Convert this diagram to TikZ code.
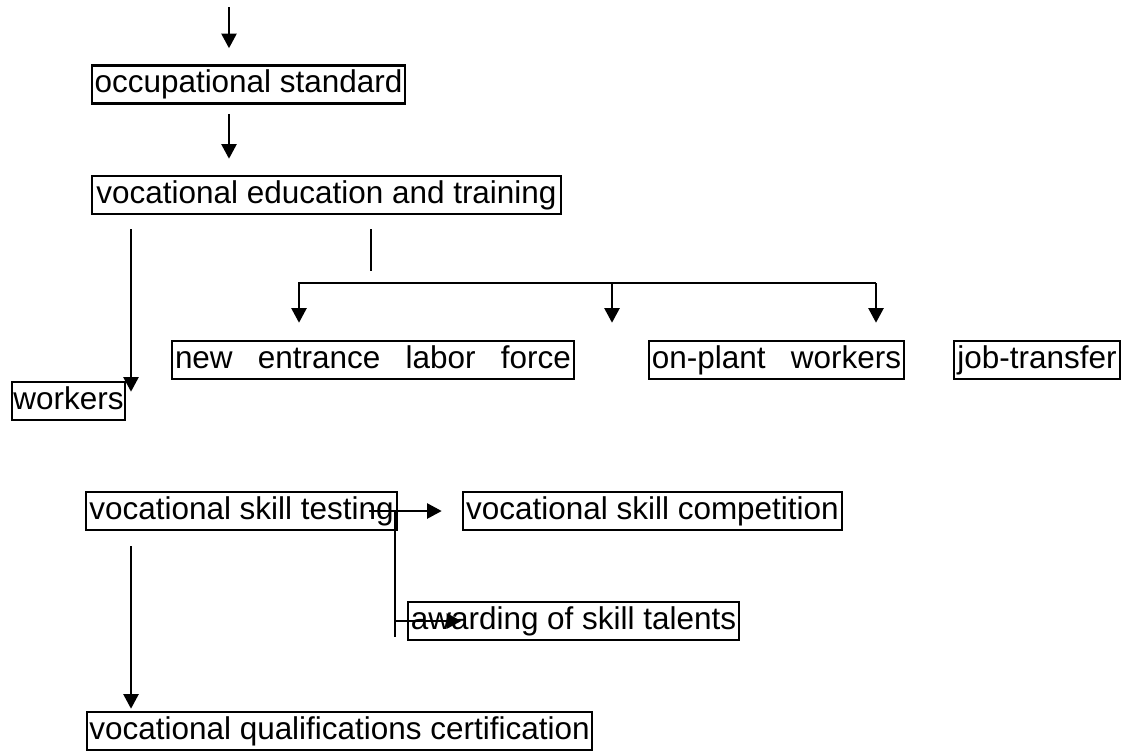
\documentclass[tikz,border=0pt]{standalone}
\usepackage{fontspec}
\setmainfont{Liberation Sans}
\usetikzlibrary{arrows.meta}

\begin{document}
\begin{tikzpicture}[
    x=0.75pt,
    y=-0.75pt,
    font=\fontsize{23.6}{28}\selectfont,
    box/.style={draw, line width=2pt, inner sep=0pt, minimum height=28.5pt, text height=17pt, text depth=5pt},
    flow/.style={-{Triangle[length=11pt,width=11.5pt]}, line width=1.3pt},
    rule/.style={line width=1.3pt}
  ]
    \useasboundingbox (0,0) rectangle (1126,751);

    \node[box, minimum width=234.75pt] (standard) at (248.5,84.5) {occupational standard};
    \node[box, minimum width=351.75pt] (training) at (326.5,195) {vocational education and training};

    \node[box, minimum width=84.75pt] (workers) at (68.5,401) {workers};
    \node[box, minimum width=301.5pt] (entrant) at (373,360) {\makebox[297pt][s]{new entrance labor force}};
    \node[box, minimum width=191.25pt] (onplant) at (776.5,360) {\makebox[187pt][s]{on-plant workers}};
    \node[box, minimum width=124.5pt] (transfer) at (1037,360) {job-transfer};

    \node[box, minimum width=233.25pt] (testing) at (241.5,511) {vocational skill testing};
    \node[box, minimum width=284.25pt] (contest) at (652.5,511) {vocational skill competition};
    \node[box, minimum width=248.25pt] (awarding) at (573.5,621) {awarding of skill talents};
    \node[box, minimum width=378.75pt] (certification) at (339.5,731) {vocational qualifications certification};

    % free ends and bends
    \coordinate (entry) at (229,7);
    \coordinate (spine) at (131,228);
    \coordinate (trunk) at (371,271);
    \coordinate (busL) at (299,283);
    \coordinate (busM) at (612,283);
    \coordinate (busR) at (876,283);
    \coordinate (branch) at (395,512);

    \draw[flow, shorten >=12pt] (entry) -- (standard.north -| entry);
    \draw[flow, shorten <=6.75pt, shorten >=12pt] (standard.south -| entry) -- (training.north -| entry);

    \draw[flow, shorten <=10.5pt, shorten >=-8.25pt] (training.south -| spine) -- (workers.north -| spine);
    \draw[rule, shorten <=10.5pt] (training.south -| trunk) -- (trunk);
    \draw[flow, shorten >=12.75pt] (busR) -- (busL) -- (busL |- entrant.north);
    \draw[flow, shorten >=12.75pt] (busM) -- (busM |- onplant.north);
    \draw[flow, shorten >=12.75pt] (busR) -- (busR |- onplant.north);

    \draw[flow] ([xshift=-22pt]testing.east) -- ([xshift=-15pt]contest.west);
    \draw[rule, shorten >=3pt] (branch) -- (branch |- awarding.south);
    \draw[flow] (branch |- awarding.west) -- ([xshift=41pt]awarding.west);
    \draw[flow, shorten <=11.25pt, shorten >=1.5pt] (testing.south -| spine) -- (certification.north -| spine);
\end{tikzpicture}
\end{document}
